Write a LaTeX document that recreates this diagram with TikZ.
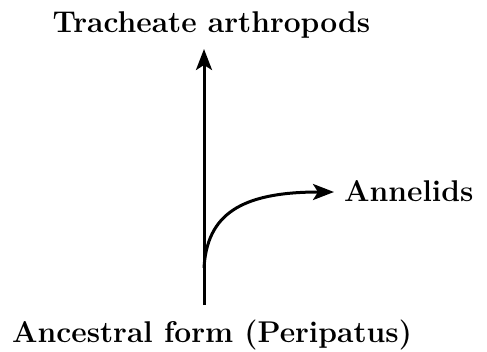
\documentclass[tikz,border=0pt]{standalone}
\usepackage{fontspec}
\usetikzlibrary{arrows.meta}
\begin{document}
\begin{tikzpicture}[x=1pt,y=-1pt,
  lbl/.style={font=\fontsize{30}{32}\selectfont\bfseries, inner sep=0pt, anchor=base},
  arr/.style={line width=3pt, -{Stealth[length=21pt,width=16pt,inset=5pt]}}]
\useasboundingbox (0,0) rectangle (487,351);
\node[lbl] (trach) at (211.5,32) {Tracheate arthropods};
\node[lbl] (anc) at (212,342) {Ancestral form (Peripatus)};
\node[lbl, anchor=base west] (ann) at (344,201) {Annelids};
\coordinate (base) at (204,305);
\coordinate (top) at (204,49);
\coordinate (branch) at (204,268);
\coordinate (tip) at (334,192);
\draw[arr] (base) -- (top);
\draw[arr] (branch) .. controls (207,215) and (240,192) .. (tip);
\end{tikzpicture}
\end{document}
